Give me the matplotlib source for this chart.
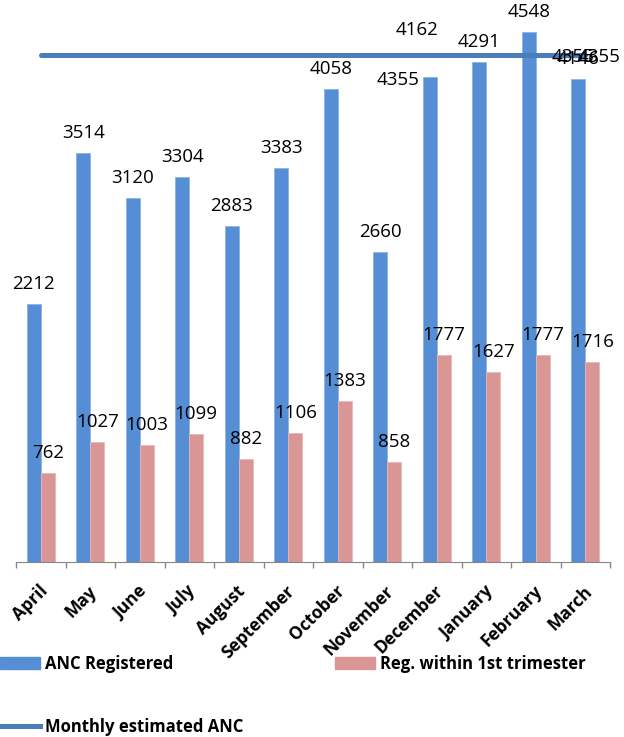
import matplotlib.pyplot as plt
import numpy as np
from matplotlib.lines import Line2D
from matplotlib.patches import Patch

plt.rcParams['font.family'] = ['Open Sans', 'DejaVu Sans']

months = ['April', 'May', 'June', 'July', 'August', 'September', 'October',
          'November', 'December', 'January', 'February', 'March']
anc_registered = [2212, 3514, 3120, 3304, 2883, 3383, 4058, 2660, 4162, 4291, 4548, 4146]
first_trimester = [762, 1027, 1003, 1099, 882, 1106, 1383, 858, 1777, 1627, 1777, 1716]
monthly_estimate = [4355] * 12

blue = '#558ED5'
pink = '#D99694'
line_blue = '#4A7EBB'

fig = plt.figure(figsize=(6.24, 7.37), dpi=100)
ax = fig.add_axes([16 / 624, 175 / 737, 594 / 624, 562 / 737])

x = np.arange(len(months)) + 0.5
w = 0.283

ax.bar(x - w / 2, anc_registered, w, color=blue, edgecolor='#8DB3E2', linewidth=0.6)
ax.bar(x + w / 2, first_trimester, w, color=pink, edgecolor='#E6B9B8', linewidth=0.6)
ax.plot(x, monthly_estimate, color=line_blue, lw=3.6, solid_capstyle='round')

ax.set_xlim(0, 12)
ax.set_ylim(0, 4823)

# data labels above the bars
px = 72 / 100  # points per pixel
fs = 13.5
for i, (a, b) in enumerate(zip(anc_registered, first_trimester)):
    dx, dy = 0, 15
    if months[i] == 'December':
        dx, dy = -13, 42
    ax.annotate(str(a), (x[i] - w / 2, a), xytext=(dx * px, dy * px),
                textcoords='offset points', ha='center', va='baseline', fontsize=fs)
    ax.annotate(str(b), (x[i] + w / 2, b), xytext=(0, 15 * px),
                textcoords='offset points', ha='center', va='baseline', fontsize=fs)

# labels of the estimate line that show up in the chart
ax.annotate(str(monthly_estimate[8]), (x[8] - w / 2, monthly_estimate[8]),
            xytext=(-32 * px, -30 * px), textcoords='offset points',
            ha='center', va='baseline', fontsize=fs)
for off in (-5, 21):
    ax.annotate(str(monthly_estimate[11]), (x[11] - w / 2, monthly_estimate[11]),
                xytext=(off * px, -2 * px), textcoords='offset points',
                ha='center', va='center', fontsize=fs)

# category axis: ticks at the boundaries, labels at the centres
for s in ['top', 'right', 'left']:
    ax.spines[s].set_visible(False)
ax.spines['bottom'].set_color('#868686')
ax.set_yticks([])
ax.set_xticks(np.arange(13))
ax.set_xticklabels([])
ax.tick_params(axis='x', which='major', length=6 * px, color='#868686', width=1)
ax.set_xticks(x + 0.08, minor=True)
ax.set_xticklabels(months, minor=True, rotation=45, ha='right', va='center',
                   rotation_mode='anchor', fontsize=12.5, fontweight='bold')
ax.tick_params(axis='x', which='minor', length=0, pad=19)

fig.text(0.47, 1.006, 'ANC Registration (2012 - 2013)', ha='center', va='baseline',
         fontsize=13, fontweight='bold')

handles = [Patch(color=blue), Line2D([], [], color=line_blue, lw=3.6), Patch(color=pink)]
labels = ['ANC Registered', 'Monthly estimated ANC', 'Reg. within 1st trimester']
fig.legend(handles, labels, ncol=2, loc='upper left', bbox_to_anchor=(0, 1 - 655 / 737),
           frameon=False, borderpad=0, borderaxespad=0, handlelength=2.4,
           handletextpad=0.3, labelspacing=2.68, columnspacing=5.5,
           prop={'size': 12, 'weight': 'bold'})

fig.savefig('out.png', dpi=100)
